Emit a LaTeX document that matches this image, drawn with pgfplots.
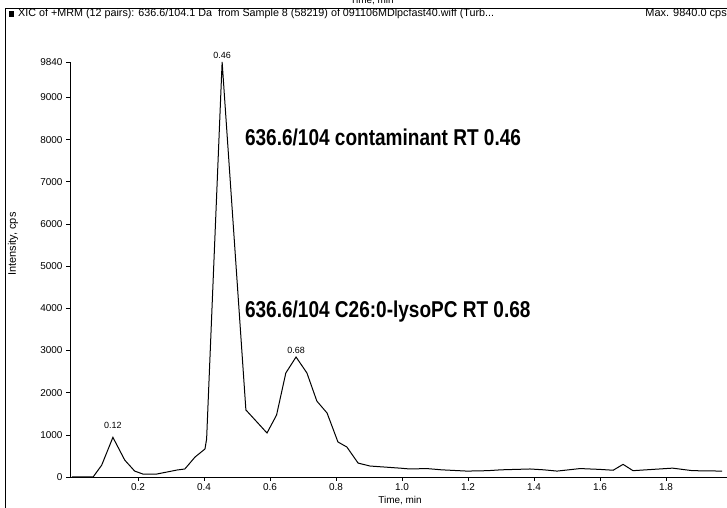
\documentclass[border=0pt]{standalone}
\usepackage{fontspec}
\setmainfont{Liberation Sans}
\newfontfamily\narrow[FakeStretch=0.83]{Liberation Sans}
\usepackage{pgfplots}
\pgfplotsset{compat=1.18}
\begin{document}
\begin{tikzpicture}[x=1bp,y=1bp]
\useasboundingbox (0,0) rectangle (727,508);
% frame and header
\draw[line width=0.8bp] (5,0) -- (5,500) -- (727,500);
\fill (9,491) rectangle (14,497);
\node[anchor=west, inner sep=0, font=\fontsize{10.8}{10.8}\selectfont] at (18,494) {XIC of +MRM (12 pairs): 636.6/104.1 Da\ \ from Sample 8 (58219) of 091106MDlpcfast40.wiff (Turb...};
\node[anchor=east, inner sep=0, font=\fontsize{11}{11}\selectfont] at (727,494) {Max. 9840.0 cps};
\node[inner sep=0, font=\fontsize{10}{10}\selectfont] at (372,507) {Time, min};
\node[rotate=90, inner sep=0, font=\fontsize{11}{11}\selectfont] at (13,264) {Intensity, cps};
\node[inner sep=0, font=\fontsize{10}{10}\selectfont] at (400,7) {Time, min};
\begin{axis}[
  at={(70bp,31bp)}, anchor=south west,
  scale only axis, width=657bp, height=415bp,
  xmin=-0.006, xmax=1.985, ymin=0, ymax=9840,
  clip=false,
  axis lines=left,
  axis line style={-, line width=0.7bp},
  tick style={black, line width=0.6bp},
  tick align=outside, major tick length=4bp,
  xtick={0.2,0.4,0.6,0.8,1.0,1.2,1.4,1.6,1.8},
  xticklabels={0.2,0.4,0.6,0.8,1.0,1.2,1.4,1.6,1.8},
  ytick={0,1000,2000,3000,4000,5000,6000,7000,8000,9000,9840},
  yticklabels={0,1000,2000,3000,4000,5000,6000,7000,8000,9000,9840},
  ticklabel style={font=\fontsize{10}{10}\selectfont},
  xticklabel style={yshift=1bp},
]
\addplot[black, line width=1bp, mark=none] coordinates {
(0.0,0) (0.064,0) (0.09,280) (0.124,940) (0.16,400) (0.19,140) (0.215,70)
(0.257,70) (0.318,165) (0.342,190) (0.373,474) (0.403,664) (0.408,900)
(0.455,9840) (0.527,1590) (0.591,1043) (0.62,1470) (0.648,2466) (0.679,2845)
(0.712,2466) (0.742,1800) (0.773,1517) (0.806,830) (0.833,711) (0.867,330)
(0.903,260) (0.994,210) (1.024,190) (1.075,200) (1.12,170) (1.197,140)
(1.26,150) (1.30,170) (1.388,190) (1.43,170) (1.47,140) (1.54,200) (1.60,180)
(1.64,160) (1.67,300) (1.70,150) (1.76,180) (1.82,210) (1.88,150) (1.97,140)
};
\node[font=\fontsize{9}{9}\selectfont] at (axis cs:0.124,1233) {0.12};
\node[font=\fontsize{9}{9}\selectfont] at (axis cs:0.455,10006) {0.46};
\node[font=\fontsize{9}{9}\selectfont] at (axis cs:0.679,3011) {0.68};
\node[anchor=west, inner sep=0, font=\narrow\bfseries\fontsize{23}{23}\selectfont] at (axis cs:0.524,8062) {636.6/104 contaminant RT 0.46};
\node[anchor=west, inner sep=0, font=\narrow\bfseries\fontsize{23}{23}\selectfont] at (axis cs:0.524,3912) {636.6/104 C26:0-lysoPC RT 0.68};
\end{axis}
\end{tikzpicture}
\end{document}
